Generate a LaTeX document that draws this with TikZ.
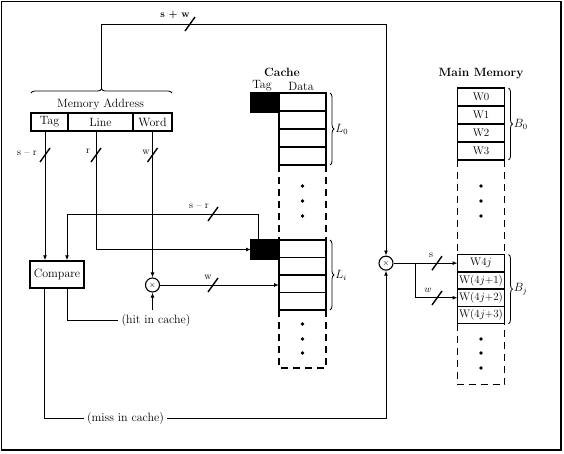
\documentclass[tikz,border=0pt]{standalone}
\usepackage{amsmath}
\usetikzlibrary{arrows.meta,positioning,calc,decorations.pathreplacing}

\begin{document}
\begin{tikzpicture}[
  x=1pt, y=1pt,
  % Text and shapes
  every node/.style={font=\fontsize{12}{14}\selectfont},
  title/.style={font=\fontsize{12}{14}\selectfont\bfseries},
  field/.style={
    draw,
    line width=1.4pt,
    outer sep=0pt,
    inner sep=0pt,
    minimum height=18pt
  },
  datacell/.style={draw, line width=1.4pt, outer sep=0pt, inner sep=0pt, minimum width=47pt},
  memcell/.style={
    draw,
    line width=1.4pt,
    outer sep=0pt,
    inner sep=0pt,
    minimum width=47pt,
    font=\fontsize{11}{13}\selectfont
  },
  tagcell/.style={draw, fill=black, line width=1.4pt, outer sep=0pt, minimum width=28pt, minimum height=19pt},
  box/.style={draw, line width=1.4pt, inner sep=3pt, minimum width=54pt, minimum height=27pt},
  mux/.style={circle, draw, line width=1.1pt, inner sep=0pt, minimum size=14pt, font=\footnotesize},
  arr/.style={-{Latex[length=5pt,width=4pt]}, line width=1pt},
  wire/.style={line width=1pt},
  col/.style={line width=1.4pt, dash pattern=on 7pt off 5pt},
  brc/.style={decorate, decoration={brace, amplitude=4pt}, line width=0.8pt},
  lbl/.style={font=\fontsize{10}{11}\selectfont, inner sep=1pt},
  lblb/.style={font=\fontsize{10}{11}\selectfont\bfseries, inner sep=1pt},
  busmark/.pic={\draw[line width=1.4pt] (-5,-7) -- (5,7);}
]

% Frame
\useasboundingbox (0,0) rectangle (564,-453);
\draw[line width=1.2pt] (1.5,-1.5) rectangle (561,-450);

% Memory address
\node[field, minimum width=37pt] (tagf) at (49.5,-122) {Tag};
\node[field, minimum width=65pt, right=0pt of tagf] (linef) {Line};
\node[field, minimum width=39pt, right=0pt of linef] (wordf) {Word};
\node[above=0pt of linef] (addr) {Memory Address};
\draw[brc] ([yshift=20]tagf.north west) -- ([yshift=20]wordf.north east);
\coordinate (brtip) at ($([yshift=24]tagf.north west)!0.5!([yshift=24]wordf.north east)$);

% Compare and selectors
\node[box] (cmp) at (57,-274.5) {Compare};
\node[mux] (mux1) at (152.5,-285) {$\times$};
\node[mux] (mux2) at (386,-263.15) {$\times$};
\node (hit) at (156,-320) {(hit in cache)};
\node (miss) at (125.5,-418) {(miss in cache)};

% Cache
\node[title] (cachelbl) at (282,-72) {Cache};
\node (taglbl) at (262,-86) {Tag};
\node (datalbl) at (301,-86) {Data};
\node[tagcell] (tag0) at (265,-102.5) {};
\foreach \r in {1,...,4}
  \node[datacell, minimum height=18pt] (l0r\r) at (302.5,{-84-18*\r}) {};
\node[tagcell] (tagi) at (265,-249.5) {};
\foreach \r in {1,...,4}
  \node[datacell, minimum height=17.5pt] (lir\r) at (302.5,{-231.25-17.5*\r}) {};
\draw[col] (l0r4.south west) -- (lir1.north west);
\draw[col] (l0r4.south east) -- (lir1.north east);
\draw[col] (lir4.south west) -- ++(0,-58) -| (lir4.south east);
\foreach \y in {186,201,216,324,339,353}
  \fill (302.5,-\y) circle (1.8);
\draw[brc] ([xshift=4]l0r1.north east) -- ([xshift=4]l0r4.south east)
  node[midway, right=5pt, inner sep=0pt] {$L_0$};
\draw[brc] ([xshift=4]lir1.north east) -- ([xshift=4]lir4.south east)
  node[midway, right=5pt, inner sep=0pt] {$L_i$};

% Main memory
\node[title] (mainlbl) at (481,-74) {Main Memory};
\foreach \r/\t in {1/W0,2/W1,3/W2,4/W3}
  \node[memcell, minimum height=18pt] (b0r\r) at (481,{-79-18*\r}) {\t};
\foreach \r/\t in {1/W4$j$,2/W(4$j$+1),3/W(4$j$+2),4/W(4$j$+3)}
  \node[memcell, minimum height=17.3pt] (bj\r) at (481,{-245.85-17.3*\r}) {\t};
\draw[col] (b0r4.south west) -- (bj1.north west);
\draw[col] (b0r4.south east) -- (bj1.north east);
\draw[col] (bj4.south west) -- ++(0,-61) -| (bj4.south east);
\foreach \y in {186,201,216,339,353,368}
  \fill (481,-\y) circle (1.8);
\draw[brc] ([xshift=4]b0r1.north east) -- ([xshift=4]b0r4.south east)
  node[midway, right=5pt, inner sep=0pt] {$B_0$};
\draw[brc] ([xshift=4]bj1.north east) -- ([xshift=4]bj4.south east)
  node[midway, right=5pt, inner sep=0pt] {$B_j$};

% Address to main memory
\draw[arr] (brtip) -- ++(0,65) -| (mux2.north);
\pic at (190,-24) {busmark};
\node[lblb] at (175,-15) {s + w};

% Address fields
\draw[arr] ([xshift=-4.5]tagf.south) -- ([xshift=-12]cmp.north);
\pic at (45,-155) {busmark};
\node[lbl] at (27,-153) {s -- r};
\draw[arr] ([xshift=-4.5]linef.south) |- (tagi.west);
\pic at (96,-155) {busmark};
\node[lbl] at (88,-151) {r};
\draw[arr] (wordf.south) -- (mux1.north);
\pic at (152.5,-155) {busmark};
\node[lbl] at (146,-152) {w};

% Tag back to compare
\draw[arr] ([xshift=-7]tagi.north) -- ++(0,26) -| ([xshift=10]cmp.north);
\pic at (213,-214) {busmark};
\node[lbl] at (199,-206) {s -- r};

% Hit path
\draw[arr] (mux1.east) -- (mux1.east -| lir3.west);
\pic at (213,-285) {busmark};
\node[lbl] at (208,-277) {w};
\draw[wire] ([xshift=10]cmp.south) |- (hit.west);
\draw[arr] (hit.north -| mux1) -- (mux1.south);

% Miss path
\draw[wire] ([xshift=-13]cmp.south) |- (miss.west);
\draw[arr] (miss.east) -| (mux2.south);
\draw[arr] (mux2.east) -- (mux2.east -| bj1.west);
\coordinate (split) at ($(mux2.east)+(22,0)$);
\draw[arr] (split) |- (bj3.west);
\pic at (437,-263.15) {busmark};
\node[lbl] at (431,-255) {s};
\pic at (437,-298) {busmark};
\node[lbl] at (428,-290) {$w$};

\end{tikzpicture}
\end{document}
